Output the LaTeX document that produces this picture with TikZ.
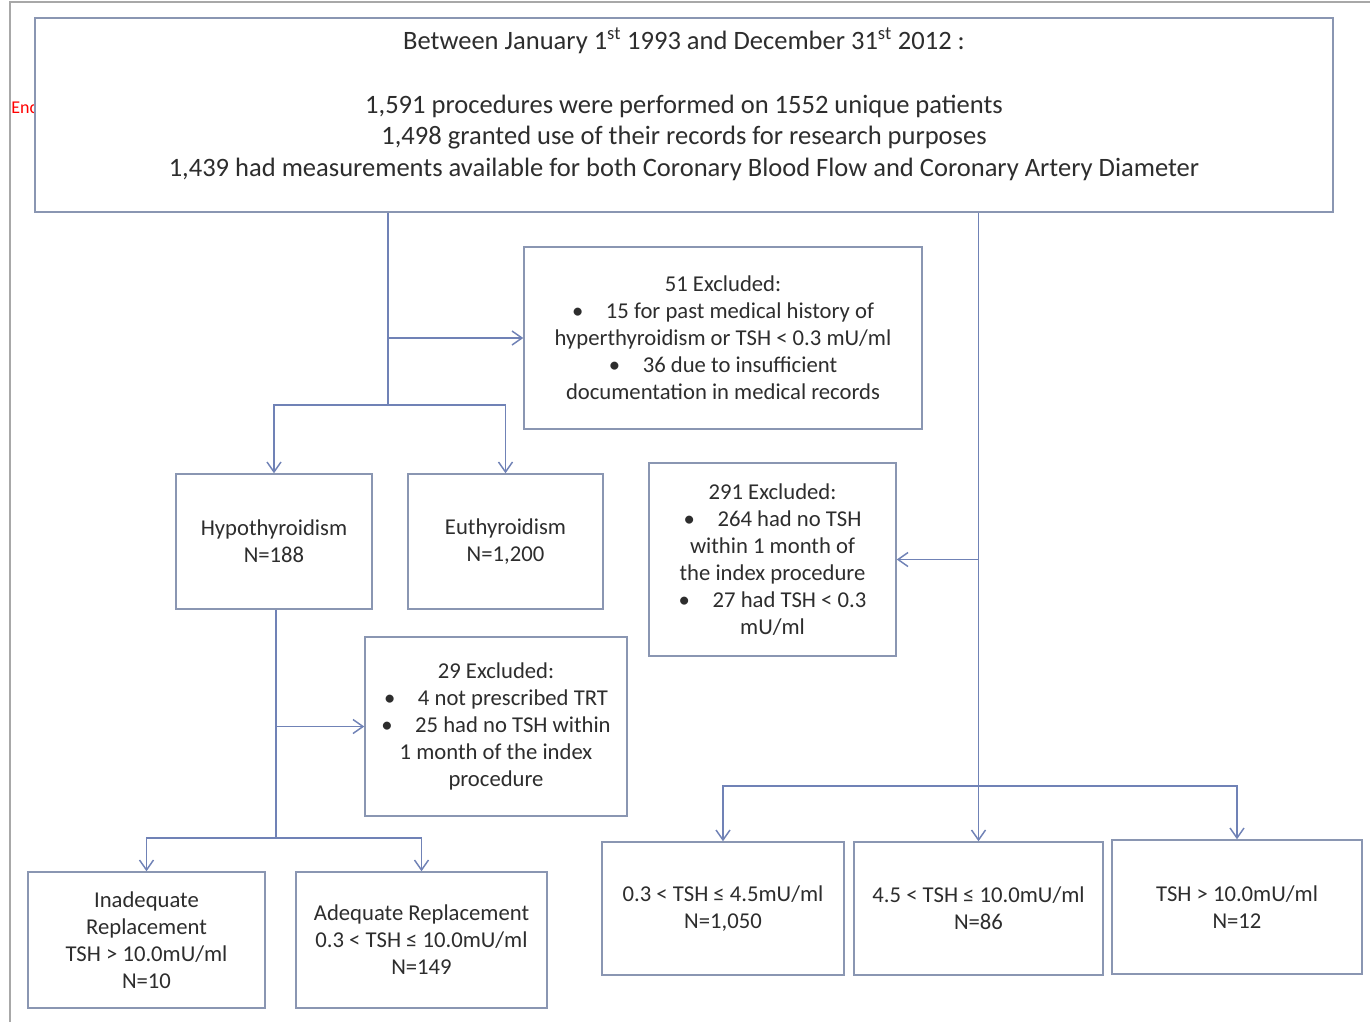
\documentclass[tikz,border=0pt]{standalone}
\usepackage{fontspec}
\setmainfont{Carlito}
\usetikzlibrary{arrows.meta}
\definecolor{linecol}{RGB}{112,130,182}
\definecolor{boxcol}{RGB}{138,150,178}
\definecolor{framecol}{RGB}{168,168,168}
\definecolor{txtcol}{RGB}{45,45,45}
\tikzset{
  >={Straight Barb[length=7.5pt,width=10.5pt]},
  % Specifications for style of nodes:
         base/.style = {rectangle, draw=boxcol, line width=1.1pt, fill=white,
                        align=center, text=txtcol, inner sep=2pt,
                        font=\fontsize{17}{20.25}\selectfont},
       header/.style = {base, minimum width=973.5pt, minimum height=145.5pt,
                        text depth=19pt,
                        font=\fontsize{19.9}{23.8}\selectfont},
     excluded/.style = {base},
        group/.style = {base},
    connector/.style = {draw=linecol, line width=1.1pt},
}

\begin{document}
\begin{tikzpicture}[x=0.75pt, y=-0.75pt]
    \useasboundingbox (0,0) rectangle (1370,1022);
    % Frame and clipped note behind the header
    \draw[framecol, line width=2.2pt] (10,1022) -- (10,2) -- (1370,2);
    \node (note) [anchor=west, text=red, inner sep=0pt,
                  font=\fontsize{13.5}{16}\selectfont] at (11,108) {Enc};

    % Specification of nodes (position, etc.)
    \node (header)    [header] at (684,115)
        {Between January 1\textsuperscript{st} 1993 and December 31\textsuperscript{st} 2012 :\\[23.8pt]
         1,591 procedures were performed on 1552 unique patients\\
         1,498 granted use of their records for research purposes\\
         1,439 had measurements available for both Coronary Blood Flow and Coronary Artery Diameter};
    \node (excl51)    [excluded, minimum width=298.5pt, minimum height=136.5pt] at (723,338)
        {51 Excluded:\\
         •\hspace{1em}15 for past medical history of\\
         hyperthyroidism or TSH < 0.3 mU/ml\\
         •\hspace{1em}36 due to insufficient\\
         documentation in medical records};
    \node (hypo)      [group, minimum width=147pt, minimum height=101.25pt] at (274,541.5)
        {Hypothyroidism\\N=188};
    \node (euthy)     [group, minimum width=146.25pt, minimum height=101.25pt] at (505.5,541.5)
        {Euthyroidism\\N=1,200};
    \node (excl291)   [excluded, minimum width=185.25pt, minimum height=144.75pt] at (772.5,559.5)
        {291 Excluded:\\
         •\hspace{1em}264 had no TSH\\
         within 1 month of\\
         the index procedure\\
         •\hspace{1em}27 had TSH < 0.3\\
         mU/ml};
    \node (excl29)    [excluded, minimum width=196.5pt, minimum height=134.25pt] at (496,726.5)
        {29 Excluded:\\
         •\hspace{1em}4 not prescribed TRT\\
         •\hspace{1em}25 had no TSH within\\
         1 month of the index\\
         procedure};
    \node (inadequate)[group, minimum width=177.75pt, minimum height=102pt] at (146.5,940)
        {Inadequate\\Replacement\\TSH > 10.0mU/ml\\N=10};
    \node (adequate)  [group, minimum width=188.25pt, minimum height=102pt] at (421.5,940)
        {Adequate Replacement\\0.3 < TSH ≤ 10.0mU/ml\\N=149};
    \node (tshLow)    [group, minimum width=181.5pt, minimum height=99.75pt] at (723,908.5)
        {0.3 < TSH ≤ 4.5mU/ml\\N=1,050};
    \node (tshMid)    [group, minimum width=186.75pt, minimum height=99.75pt] at (978.5,908.5)
        {4.5 < TSH ≤ 10.0mU/ml\\N=86};
    \node (tshHigh)   [group, minimum width=187.5pt, minimum height=100.5pt] at (1237,907)
        {TSH > 10.0mU/ml\\N=12};

    % Junction points of the branching lines
    \coordinate (splitTop)  at (388,405);
    \coordinate (splitHypo) at (276,838);
    \coordinate (splitTsh)  at (978.5,786);

    % Specification of lines between nodes specified above
    \draw[connector]     (header.south -| splitTop) -- (splitTop);
    \draw[connector, ->] (excl51.west -| splitTop) -- (excl51.west);
    \draw[connector, ->] (splitTop) -| (hypo.north);
    \draw[connector, ->] (splitTop) -| (euthy.north);

    \draw[connector]     (hypo.south -| splitHypo) -- (splitHypo);
    \draw[connector, ->] (excl29.west -| splitHypo) -- (excl29.west);
    \draw[connector, ->] (splitHypo) -| (inadequate.north);
    \draw[connector, ->] (splitHypo) -| (adequate.north);

    \draw[connector, ->] (header.south -| tshMid.north) -- (tshMid.north);
    \draw[connector, ->] (excl291.east -| tshMid.north) -- (excl291.east);
    \draw[connector, ->] (splitTsh) -| (tshLow.north);
    \draw[connector, ->] (splitTsh) -| (tshHigh.north);
\end{tikzpicture}
\end{document}
